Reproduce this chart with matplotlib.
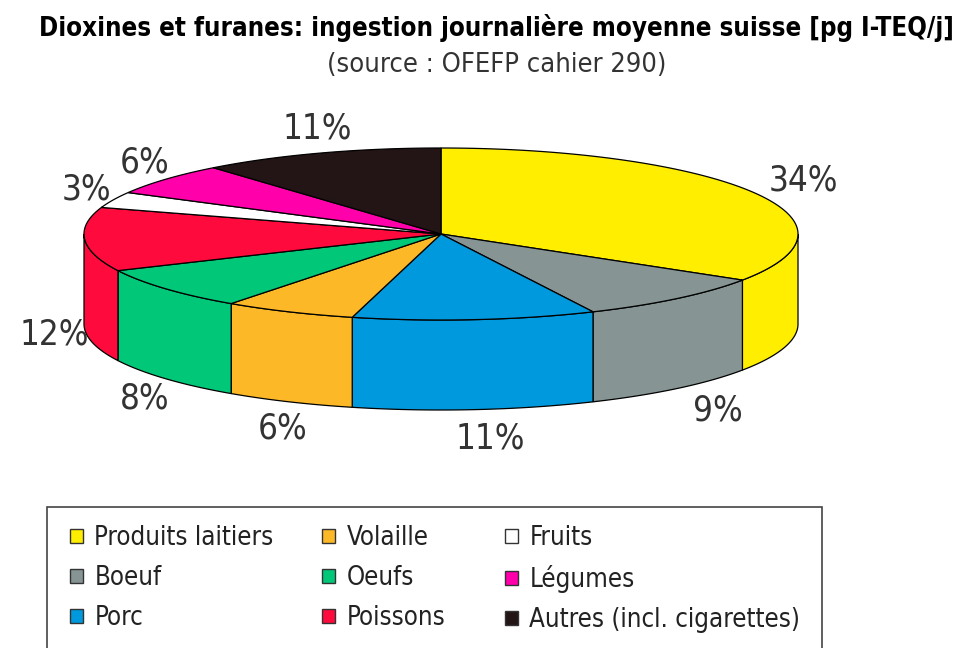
import numpy as np
import matplotlib
matplotlib.use("Agg")
import matplotlib.pyplot as plt
from matplotlib.patches import Polygon, Rectangle, Patch

# =========================================================
# Datos
# =========================================================
categories = ["Produits laitiers", "Boeuf", "Porc", "Volaille", "Oeufs",
              "Poissons", "Fruits", "Légumes", "Autres (incl. cigarettes)"]
values = [34, 9, 11, 6, 8, 12, 3, 6, 11]
colors = ["#FFEE00", "#869494", "#0099DD", "#FDB827", "#00C878",
          "#FF0A3C", "#FFFFFF", "#FF00AA", "#231415"]

title = "Dioxines et furanes: ingestion journalière moyenne suisse [pg I-TEQ/j]"
subtitle = "(source : OFEFP cahier 290)"

FONT = ["DejaVu Sans"]
STRETCH = "condensed"

# =========================================================
# Geometría del pastel 3D (en píxeles)
# =========================================================
cx, cy = 441, 234
rx, ry = 357, 86
depth = 90

fig = plt.figure(figsize=(9.6, 6.48), dpi=100)
ax = fig.add_axes([0, 0, 1, 1])
ax.set_xlim(0, 960)
ax.set_ylim(648, 0)
ax.axis("off")


def ell(t):
    t = np.radians(t)
    return cx + rx * np.cos(t), cy - ry * np.sin(t)


fracs = np.array(values) / np.sum(values)
bounds = 90 - 360 * np.concatenate([[0], np.cumsum(fracs)])

# paredes laterales (solo la mitad frontal)
for i in range(len(values)):
    a0, a1 = bounds[i], bounds[i + 1]
    hi, lo = min(a0, 0), max(a1, -180)
    if hi <= lo:
        continue
    t = np.linspace(hi, lo, 80)
    x, y = ell(t)
    pts = np.column_stack([np.concatenate([x, x[::-1]]),
                           np.concatenate([y, y[::-1] + depth])])
    ax.add_patch(Polygon(pts, closed=True, facecolor=colors[i],
                         edgecolor="black", lw=0.9, zorder=2))

# cara superior
for i in range(len(values)):
    a0, a1 = bounds[i], bounds[i + 1]
    t = np.linspace(a0, a1, 120)
    x, y = ell(t)
    pts = np.column_stack([np.concatenate([[cx], x]), np.concatenate([[cy], y])])
    ax.add_patch(Polygon(pts, closed=True, facecolor=colors[i],
                         edgecolor="black", lw=0.9, zorder=3))

# etiquetas de porcentaje
for i, v in enumerate(values):
    mid = np.radians((bounds[i] + bounds[i + 1]) / 2)
    lx = cx + 12 + rx * 1.12 * np.cos(mid)
    ly = cy - ry * 1.3 * np.sin(mid)
    if np.sin(mid) < -0.05:
        ly += depth + 3
    ax.text(lx, ly, f"{v}%", ha="center", va="center", fontsize=25,
            color="#333333", family=FONT, fontstretch=STRETCH, zorder=4)

# títulos
fig.text(0.517, 1 - 28 / 648, title, ha="center", va="center", fontsize=18.5,
         fontweight="bold", family=FONT, fontstretch=STRETCH, color="black")
fig.text(0.517, 1 - 65 / 648, subtitle, ha="center", va="center", fontsize=19.5,
         family=FONT, fontstretch=STRETCH, color="#333333")

# leyenda (una columna por cada legend, para fijar la posición de cada una)
ax.add_patch(Rectangle((47, 507), 775, 200, facecolor="white",
                       edgecolor="#444444", lw=1.2, zorder=1))
handles = [Patch(facecolor=c, edgecolor="#333333", lw=1) for c in colors]
col_x = [70, 322, 505]
for j, x0 in enumerate(col_x):
    leg = fig.legend(handles[3 * j:3 * j + 3], categories[3 * j:3 * j + 3],
                     loc="upper left", bbox_to_anchor=(x0 / 960, 1 - 525 / 648),
                     frameon=False, borderpad=0, borderaxespad=0,
                     prop={"family": FONT, "size": 18.5, "stretch": STRETCH},
                     handlelength=0.5, handleheight=0.5, handletextpad=0.45,
                     labelspacing=0.55, labelcolor="#222222")

fig.savefig("out.png", dpi=100)
